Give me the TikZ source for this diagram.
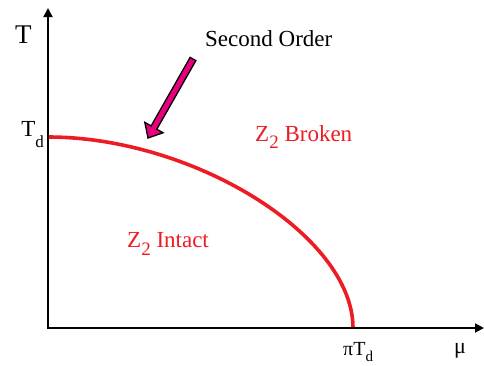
\documentclass[tikz,border=0pt]{standalone}
\usepackage{fontspec}
\setmainfont{Liberation Serif}
\usetikzlibrary{arrows.meta, calc}
\definecolor{linered}{HTML}{ED1C24}
\definecolor{arrowpink}{HTML}{E6007E}
\newcommand{\sz}[1]{\fontsize{#1}{#1}\selectfont}
\newcommand{\lowtext}[3]{\raisebox{-#1pt}{\sz{#2}#3}}

\begin{document}
\begin{tikzpicture}[x=1pt, y=-1pt,
      axis/.style={line width=1.8pt, -{Triangle[length=9pt, width=9pt]}},
      phase/.style={draw=linered, line width=3.6pt},
      lbl/.style={inner sep=0pt, anchor=base west},
      redlbl/.style={lbl, text=linered}]
    \useasboundingbox (0,0) rectangle (484,365);
    \coordinate (O) at (48,328);
    \coordinate (ytop) at (48,8);
    \coordinate (xend) at (484,328);
    \coordinate (Td) at (48,137);
    \coordinate (piTd) at (353,328);

    % phase boundary
    \draw[phase] (Td) .. controls ($(Td)+(146,0)$) and ($(piTd)+(0,-92)$) .. (piTd);

    % axes
    \draw[axis] ($(O)+(0,0.9)$) -- (ytop);
    \draw[axis] ($(O)+(-0.9,0)$) -- (xend);

    % axis labels
    \node[lbl, font=\sz{27}] (Tlab) at (15,43) {T};
    \node[lbl, anchor=base east, font=\sz{23}] (Tdlab) at (44,136) {T\lowtext{11}{17}{d}};
    \node[lbl, font=\sz{20}] (pilab) at (343,355) {πT\lowtext{6.5}{15}{d}};
    \node[lbl, font=\sz{22}] (mulab) at (454,353) {μ};

    % phases
    \node[redlbl, font=\sz{23}] (broken) at (255,141) {Z\lowtext{7}{19}{2} Broken};
    \node[redlbl, font=\sz{23}] (intact) at (127,247) {Z\lowtext{8}{19}{2} Intact};

    % second order pointer
    \node[lbl, font=\sz{23}] (order) at (205,46) {Second Order};
    \coordinate (tail) at (193,59);
    \coordinate (tip) at (148,138);
    \coordinate (hb) at ($(tip)!12pt!(tail)$);
    \draw[line width=1.3pt, fill=arrowpink, line join=miter]
      ($(tail)!3.3pt!90:(tip)$) -- ($(hb)!3.3pt!90:(tip)$) -- ($(hb)!10.5pt!90:(tip)$)
      -- (tip) -- ($(hb)!10.5pt!-90:(tip)$) -- ($(hb)!3.3pt!-90:(tip)$)
      -- ($(tail)!3.3pt!-90:(tip)$) -- cycle;
\end{tikzpicture}
\end{document}
